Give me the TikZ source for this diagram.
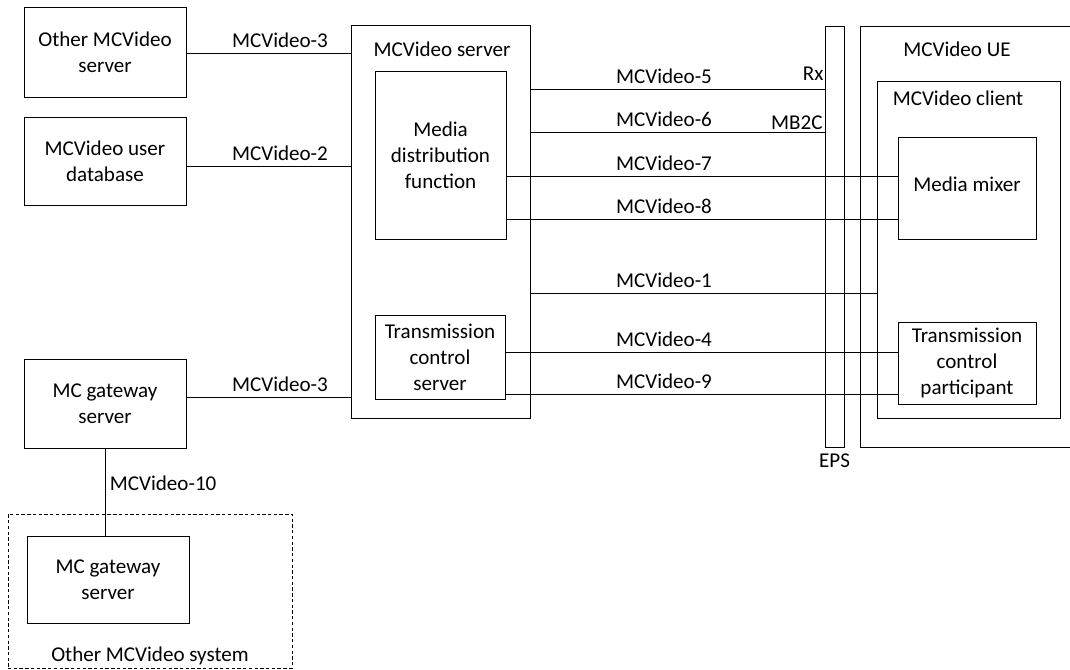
\documentclass[tikz,border=0pt]{standalone}
\usepackage{fontspec}
\setmainfont{Carlito}
\usetikzlibrary{fit}

\begin{document}
\begin{tikzpicture}[
    x = 0.75pt, y = -0.75pt,
    line width = 0.7pt,
    font = \fontsize{15.8}{19.5}\selectfont,
    box/.style 2 args = {draw, inner sep=0pt, align=center,
        minimum width={#1*0.75pt}, minimum height={#2*0.75pt}},
    frame/.style = {draw, inner sep=0pt},
    lbl/.style = {above, inner sep=3.4pt}
]
    \useasboundingbox (0, 0) rectangle (1070, 669);

    % Left side
    \node [box={162}{90}] (oms) at (105, 52) {Other MCVideo\\server};
    \node [box={162}{88}] (udb) at (105, 161) {MCVideo user\\database};
    \node [box={162}{89}] (gw) at (105, 403.5) {MC gateway\\server};

    % Other MCVideo system
    \node [frame, dashed, dash pattern=on 2.5pt off 1.8pt, fit={(8, 514) (292, 668)}] (sys) {};
    \node [box={162}{87}] (gw2) at (108, 579.5) {MC gateway\\server};
    \node [above, inner sep=2.5pt] (syslbl) at (sys.south) {Other MCVideo system};

    % MCVideo server
    \node [frame, fit={(351, 25) (530, 418)}] (srv) {};
    \node (srvlbl) at (442, 49) {MCVideo server};
    \node [box={131}{168}] (mdf) at (440.5, 155) {Media\\distribution\\function};
    \node [box={130}{84}] (tcs) at (440, 357) {Transmission\\control\\server};

    % EPS
    \node [frame, fit={(825, 26) (844, 447)}] (eps) {};
    \node [below, inner sep=4.5pt] (epslbl) at (eps.south) {EPS};

    % MCVideo UE
    \node [frame, fit={(860, 26) (1090, 447)}] (ue) {};
    \node (uelbl) at (957, 49) {MCVideo UE};
    \node [frame, fit={(877, 81) (1060, 418)}] (cli) {};
    \node (clilbl) at (958, 98) {MCVideo client};
    \node [box={138}{102}, text depth=6pt] (mix) at (967, 188) {Media mixer};
    \node [box={138}{82}] (tcp) at (967, 363) {Transmission\\control\\participant};

    % Reference points, left side
    \draw (oms.east |- 0, 53) -- (srv.west |- 0, 53) node [lbl, pos=0.57] {MCVideo-3};
    \draw (udb.east |- 0, 166) -- (srv.west |- 0, 166) node [lbl, pos=0.57] {MCVideo-2};
    \draw (gw.east |- 0, 397) -- (srv.west |- 0, 397) node [lbl, pos=0.57] {MCVideo-3};
    \draw (gw.south) -- (gw.south |- gw2.north) node [right, pos=0.4] {MCVideo-10};

    % Reference points, right side
    \foreach \n/\yy/\a/\b in {5/89/srv/eps, 6/132/srv/eps, 7/176/mdf/mix, 8/219/mdf/mix,
                              1/293/srv/cli, 4/352/tcs/tcp, 9/394/tcs/tcp}{
        \draw (\a.east |- 0, \yy) -- (\b.west |- 0, \yy);
        \node [lbl] (mcv\n) at (664, \yy) {MCVideo-\n};
    }
    \node [anchor=south east, inner sep=0pt] (rx) at (824, 81) {Rx};
    \node [anchor=south east, inner sep=0pt] (mb2c) at (823, 130) {MB2C};
\end{tikzpicture}
\end{document}
